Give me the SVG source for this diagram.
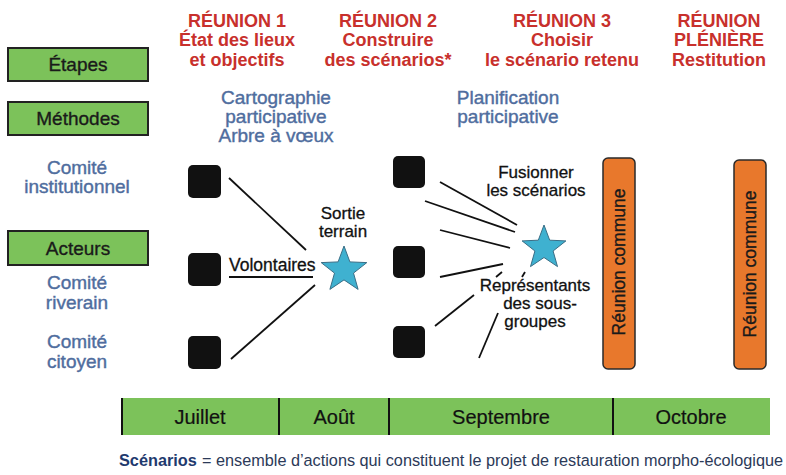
<svg xmlns="http://www.w3.org/2000/svg" width="786" height="475" viewBox="0 0 786 475">
<defs>
<style>
text{font-family:"Liberation Sans",Arial,sans-serif}
.red{fill:#c8302c;font-weight:bold;font-size:18px;text-anchor:middle}
.blue{fill:#4f6d9e;font-size:19px;text-anchor:middle;stroke:#4f6d9e;stroke-width:0.4}
.lab{fill:#1a1a1a;font-size:19px;text-anchor:middle;stroke:#1a1a1a;stroke-width:0.35}
.blk{fill:#111;font-size:17px;stroke:#111;stroke-width:0.3}
.gbox{fill:#7cc25a;stroke:#222;stroke-width:2}
.sq{fill:#111}
.bar{fill:#e8782c;stroke:#2a2a2a;stroke-width:1.5}
.star{fill:#3fb1d0;stroke:#3a6e86;stroke-width:1}
.ln{stroke:#111;stroke-width:1.8;fill:none}
.mon{fill:#111;font-size:20px;text-anchor:middle;stroke:#111;stroke-width:0.2}
</style>
</defs>
<rect width="786" height="475" fill="#ffffff"/>

<g id="header-r1">
<text class="red" x="237" y="27">RÉUNION 1</text>
<text class="red" x="237" y="46">État des lieux</text>
<text class="red" x="237" y="66">et objectifs</text>
</g>
<g id="header-r2">
<text class="red" x="388" y="27">RÉUNION 2</text>
<text class="red" x="388" y="46">Construire</text>
<text class="red" x="388" y="66">des scénarios*</text>
</g>
<g id="header-r3">
<text class="red" x="562" y="27">RÉUNION 3</text>
<text class="red" x="562" y="46">Choisir</text>
<text class="red" x="562" y="66">le scénario retenu</text>
</g>
<g id="header-pleniere">
<text class="red" x="719" y="27">RÉUNION</text>
<text class="red" x="719" y="46">PLÉNIÈRE</text>
<text class="red" x="719" y="66">Restitution</text>
</g>

<g id="etapes">
<rect class="gbox" x="8" y="48" width="140" height="33"/>
<text class="lab" x="78" y="71">Étapes</text>
</g>
<g id="methodes">
<rect class="gbox" x="8" y="102" width="140" height="33"/>
<text class="lab" x="78" y="125">Méthodes</text>
</g>
<g id="acteurs">
<rect class="gbox" x="8" y="231" width="140" height="34"/>
<text class="lab" x="78" y="255">Acteurs</text>
</g>

<g id="methode1">
<text class="blue" x="276" y="104">Cartographie</text>
<text class="blue" x="276" y="123">participative</text>
<text class="blue" x="276" y="142">Arbre à vœux</text>
</g>
<g id="methode2">
<text class="blue" x="508" y="104">Planification</text>
<text class="blue" x="508" y="123">participative</text>
</g>

<g id="comite-institutionnel">
<text class="blue" x="77" y="174">Comité</text>
<text class="blue" x="77" y="193">institutionnel</text>
</g>
<g id="comite-riverain">
<text class="blue" x="77" y="289">Comité</text>
<text class="blue" x="77" y="309">riverain</text>
</g>
<g id="comite-citoyen">
<text class="blue" x="77" y="348">Comité</text>
<text class="blue" x="77" y="368">citoyen</text>
</g>

<g id="connectors">
<line class="ln" x1="229" y1="178" x2="306" y2="250"/>
<line class="ln" x1="229" y1="277" x2="313" y2="277"/>
<line class="ln" x1="231" y1="359" x2="315" y2="285"/>
<line class="ln" x1="440" y1="182" x2="517" y2="225"/>
<line class="ln" x1="425" y1="201" x2="515" y2="232"/>
<line class="ln" x1="440" y1="230" x2="510" y2="248"/>
<line class="ln" x1="440" y1="277" x2="503" y2="264"/>
<line class="ln" x1="496" y1="277" x2="502" y2="272"/>
<line class="ln" x1="522" y1="277" x2="525" y2="272"/>
<line class="ln" x1="435" y1="326" x2="474" y2="295"/>
<line class="ln" x1="479" y1="358" x2="498" y2="313"/>
</g>

<g id="sq1a"><rect class="sq" x="188" y="165" width="33" height="33" rx="5"/></g>
<g id="sq1b"><rect class="sq" x="188" y="253" width="33" height="33" rx="5"/></g>
<g id="sq1c"><rect class="sq" x="188" y="336" width="33" height="33" rx="5"/></g>
<g id="sq2a"><rect class="sq" x="393" y="156" width="32" height="32" rx="5"/></g>
<g id="sq2b"><rect class="sq" x="393" y="246" width="32" height="32" rx="5"/></g>
<g id="sq2c"><rect class="sq" x="393" y="326" width="32" height="32" rx="5"/></g>

<g id="star1">
<polygon class="star" transform="translate(344,270)" points="0,-24 5.9,-8.1 22.8,-7.4 9.5,3.1 14.1,19.4 0,9.9 -14.1,19.4 -9.5,3.1 -22.8,-7.4 -5.9,-8.1"/>
<text class="blk" x="343" y="219" text-anchor="middle">Sortie</text>
<text class="blk" x="343" y="237" text-anchor="middle">terrain</text>
<text class="blk" x="229" y="271" style="font-size:17.5px">Volontaires</text>
</g>

<g id="star2">
<polygon class="star" transform="translate(544,248)" points="0,-23 5.7,-7.8 21.9,-7.1 9.1,3 13.5,18.6 0,9.5 -13.5,18.6 -9.1,3 -21.9,-7.1 -5.7,-7.8"/>
<text class="blk" x="536" y="178" text-anchor="middle">Fusionner</text>
<text class="blk" x="536" y="196" text-anchor="middle">les scénarios</text>
<text class="blk" x="535" y="291" text-anchor="middle">Représentants</text>
<text class="blk" x="540" y="309" text-anchor="middle">des sous-</text>
<text class="blk" x="535" y="327" text-anchor="middle">groupes</text>
</g>

<g id="reunion-commune-1">
<rect class="bar" x="603" y="158" width="32" height="211" rx="5"/>
<text class="lab" transform="translate(625,262) rotate(-90)" style="font-size:17.5px">Réunion commune</text>
</g>
<g id="reunion-commune-2">
<rect class="bar" x="734" y="160" width="32" height="209" rx="5"/>
<text class="lab" transform="translate(756,264) rotate(-90)" style="font-size:17.5px">Réunion commune</text>
</g>

<g id="timeline">
<rect x="121" y="398" width="649" height="37" fill="#7cc25a"/>
<line x1="122" y1="398" x2="122" y2="435" stroke="#111" stroke-width="2"/>
<line x1="279" y1="398" x2="279" y2="435" stroke="#111" stroke-width="2"/>
<line x1="389" y1="398" x2="389" y2="435" stroke="#111" stroke-width="2"/>
<line x1="613" y1="398" x2="613" y2="435" stroke="#111" stroke-width="2"/>
<text class="mon" x="200" y="424">Juillet</text>
<text class="mon" x="334" y="424">Août</text>
<text class="mon" x="501" y="424">Septembre</text>
<text class="mon" x="691" y="424">Octobre</text>
</g>

<g id="footnote">
<text x="119" y="466" style="font-size:16.3px;font-weight:bold;fill:#1f3a6e">Scénarios</text>
<text x="202" y="466" style="font-size:16.3px;fill:#2c3a58" textLength="581" lengthAdjust="spacingAndGlyphs">= ensemble d’actions qui constituent le projet de restauration morpho-écologique</text>
</g>
</svg>
